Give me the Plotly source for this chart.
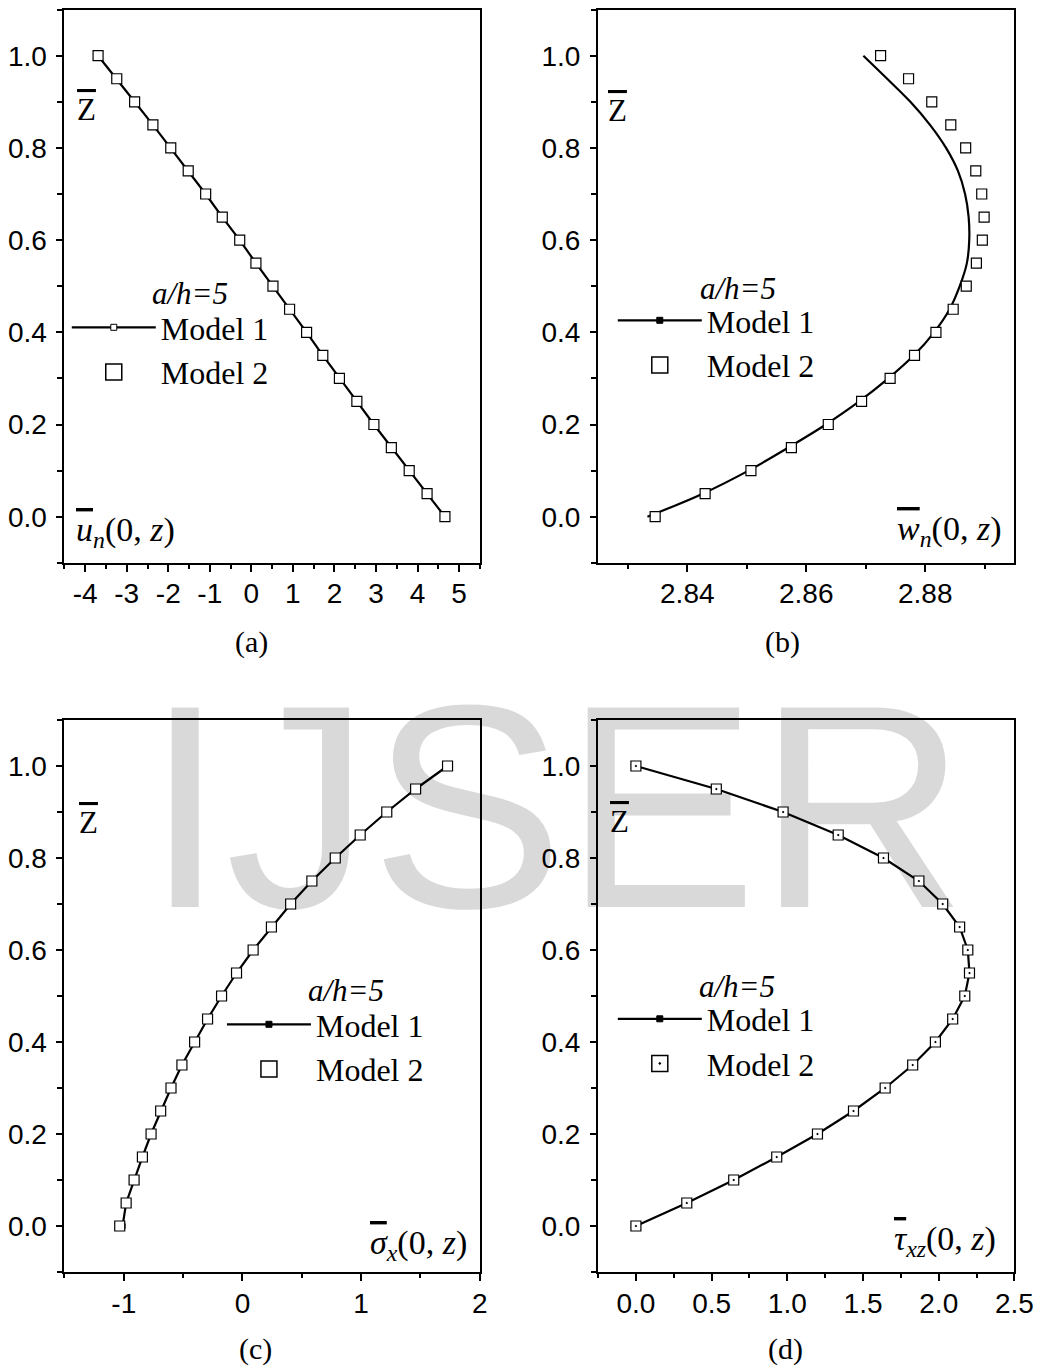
import numpy as np
import plotly.graph_objects as go

W, H = 1058, 1370

# ---------------- data ----------------
z_levels = [1.00, 0.95, 0.90, 0.85, 0.80, 0.75, 0.70, 0.65, 0.60, 0.55, 0.50,
            0.45, 0.40, 0.35, 0.30, 0.25, 0.20, 0.15, 0.10, 0.05, 0.00]

u_model1 = [-3.69, -3.24, -2.81, -2.37, -1.94, -1.52, -1.10, -0.70, -0.28, 0.11, 0.52,
            0.92, 1.33, 1.72, 2.12, 2.54, 2.95, 3.37, 3.80, 4.23, 4.66]
u_model2 = [-3.69, -3.24, -2.81, -2.37, -1.94, -1.52, -1.10, -0.70, -0.28, 0.11, 0.52,
            0.92, 1.33, 1.72, 2.12, 2.54, 2.95, 3.37, 3.80, 4.23, 4.66]

w_model1 = [2.8696, 2.8736, 2.8775, 2.8808, 2.8835, 2.8855, 2.8867, 2.8873, 2.8874, 2.8870, 2.8858,
            2.8841, 2.8815, 2.8781, 2.8738, 2.8689, 2.8633, 2.8570, 2.8503, 2.8426, 2.8333]
w_model2 = [2.8725, 2.8772, 2.8811, 2.8843, 2.8868, 2.8885, 2.8895, 2.8899, 2.8896, 2.8886, 2.8869,
            2.8847, 2.8818, 2.8782, 2.8741, 2.8693, 2.8637, 2.8575, 2.8507, 2.8430, 2.8346]

sx_model1 = [1.728, 1.459, 1.216, 0.992, 0.782, 0.585, 0.406, 0.244, 0.090, -0.050, -0.176,
             -0.294, -0.403, -0.510, -0.602, -0.689, -0.770, -0.843, -0.913, -0.980, -1.010]
sx_model2 = [1.728, 1.459, 1.216, 0.992, 0.782, 0.585, 0.406, 0.244, 0.090, -0.050, -0.176,
             -0.294, -0.403, -0.510, -0.602, -0.689, -0.770, -0.843, -0.913, -0.980, -1.034]

tau_model1 = [0.000, 0.531, 0.972, 1.336, 1.635, 1.869, 2.026, 2.138, 2.192, 2.203, 2.172,
              2.092, 1.978, 1.828, 1.646, 1.437, 1.199, 0.930, 0.646, 0.336, 0.000]
tau_model2 = [0.000, 0.531, 0.972, 1.336, 1.635, 1.869, 2.026, 2.138, 2.192, 2.203, 2.172,
              2.092, 1.978, 1.828, 1.646, 1.437, 1.199, 0.930, 0.646, 0.336, 0.000]

# ---------------- ticks / labels ----------------
y_ticks = [0.0, 0.2, 0.4, 0.6, 0.8, 1.0]
y_ticktext = ["0.0", "0.2", "0.4", "0.6", "0.8", "1.0"]
xa_ticks = [-4, -3, -2, -1, 0, 1, 2, 3, 4, 5]
xa_ticktext = ["-4", "-3", "-2", "-1", "0", "1", "2", "3", "4", "5"]
xb_ticks = [2.84, 2.86, 2.88]
xb_ticktext = ["2.84", "2.86", "2.88"]
xc_ticks = [-1, 0, 1, 2]
xc_ticktext = ["-1", "0", "1", "2"]
xd_ticks = [0.0, 0.5, 1.0, 1.5, 2.0, 2.5]
xd_ticktext = ["0.0", "0.5", "1.0", "1.5", "2.0", "2.5"]

legend_title = "a/h=5"
series_names = ["Model 1", "Model 2"]
panel_captions = ["(a)", "(b)", "(c)", "(d)"]
panel_quantities = [
    '<span style="text-decoration:overline"><i>u</i></span><sub><i>n</i></sub>(0, <i>z</i>)',
    '<span style="text-decoration:overline"><i>w</i></span><sub><i>n</i></sub>(0, <i>z</i>)',
    '<span style="text-decoration:overline"><i>σ</i></span><sub><i>x</i></sub>(0, <i>z</i>)',
    '<span style="text-decoration:overline"><i>τ</i></span><sub><i>xz</i></sub>(0, <i>z</i>)',
]
z_label = '<span style="text-decoration:overline">Z</span>'
watermark = "IJSER"


def px(x):
    return x / W


def py(y):
    return 1 - y / H


SERIF = "Liberation Serif"
SANS = "Liberation Sans"

dom_x_left = [px(65.6), px(488.6)]
dom_x_right = [px(609), px(1033)]
dom_y_top = [py(562.8), py(9.6)]
dom_y_bot = [py(1272), py(720)]


def x_axis(rng, domain, tv, tt, minor_vals, anchor):
    return dict(range=rng, domain=domain, anchor=anchor, tickmode="array",
                tickvals=tv, ticktext=tt, ticks="outside", ticklen=7, tickwidth=1.5,
                tickcolor="black", showline=True, linewidth=2, linecolor="black",
                mirror=True, showgrid=False, zeroline=False, ticklabelstandoff=-2,
                tickfont=dict(family=SANS, size=28, color="black"),
                minor=dict(tickmode="array", tickvals=minor_vals, ticks="outside",
                           ticklen=4, tickwidth=1.5, tickcolor="black", showgrid=False))


def y_axis(domain, anchor):
    return dict(range=[-0.1, 1.1], domain=domain, anchor=anchor, tickmode="array",
                tickvals=y_ticks, ticktext=y_ticktext, ticks="outside", ticklen=6,
                tickwidth=1.5, tickcolor="black", showline=True, linewidth=2,
                linecolor="black", mirror=True, showgrid=False, zeroline=False,
                ticklabelstandoff=4,
                tickfont=dict(family=SANS, size=28, color="black"),
                minor=dict(tickmode="array",
                           tickvals=list(np.round(np.arange(-0.1, 1.11, 0.2), 2)),
                           ticks="outside", ticklen=5, tickwidth=1.5,
                           tickcolor="black", showgrid=False))


fig = go.Figure()

panels = [
    ("x", "y", u_model1, u_model2, "legend", "square", "white", "lines+markers", "linear", "square"),
    ("x2", "y2", w_model1, w_model2, "legend2", "square", "black", "lines", "spline", "square"),
    ("x3", "y3", sx_model1, sx_model2, "legend3", "square", "black", "lines+markers", "linear", "square"),
    ("x4", "y4", tau_model1, tau_model2, "legend4", "square", "black", "lines+markers", "linear", "square-dot"),
]

for xa, ya, m1, m2, lg, sym1, col1, mode1, shape1, sym2 in panels:
    # Model 1 curve
    fig.add_trace(go.Scatter(
        x=m1, y=z_levels, xaxis=xa, yaxis=ya, mode=mode1, showlegend=False,
        line=dict(color="black", width=2.2, shape=shape1),
        marker=dict(symbol=sym1, size=5, color=col1, line=dict(color="black", width=1))))
    # Model 2 symbols
    fig.add_trace(go.Scatter(
        x=m2, y=z_levels, xaxis=xa, yaxis=ya, mode="markers", showlegend=False,
        marker=dict(symbol=sym2, size=10, color="white", line=dict(color="black", width=1.2))))
    # legend entries
    fig.add_trace(go.Scatter(
        x=[None], y=[None], xaxis=xa, yaxis=ya, mode="lines+markers", name=series_names[0],
        legend=lg, line=dict(color="black", width=2.2),
        marker=dict(symbol=sym1, size=6, color=col1, line=dict(color="black", width=1))))
    fig.add_trace(go.Scatter(
        x=[None], y=[None], xaxis=xa, yaxis=ya, mode="markers", name=series_names[1],
        legend=lg,
        marker=dict(symbol=sym2, size=16, color="white", line=dict(color="black", width=1.5))))

legend_common = dict(bgcolor="rgba(0,0,0,0)", borderwidth=0, itemwidth=84,
                     font=dict(family=SERIF, size=32, color="black"),
                     xanchor="left", yanchor="top", tracegroupgap=0)

fig.update_layout(
    width=W, height=H, margin=dict(l=0, r=0, t=0, b=0),
    paper_bgcolor="white", plot_bgcolor="rgba(0,0,0,0)",
    xaxis=x_axis([-4.5, 5.5], dom_x_left, xa_ticks, xa_ticktext,
                 list(np.arange(-4.5, 5.6, 1.0)), "y"),
    yaxis=y_axis(dom_y_top, "x"),
    xaxis2=x_axis([2.825, 2.895], dom_x_right, xb_ticks, xb_ticktext,
                  [2.83, 2.85, 2.87, 2.89], "y2"),
    yaxis2=y_axis(dom_y_top, "x2"),
    xaxis3=x_axis([-1.5, 2.0], dom_x_left, xc_ticks, xc_ticktext,
                  [-1.5, -0.5, 0.5, 1.5], "y3"),
    yaxis3=y_axis(dom_y_bot, "x3"),
    xaxis4=x_axis([-0.25, 2.5], dom_x_right, xd_ticks, xd_ticktext,
                  list(np.arange(-0.25, 2.5, 0.5)), "y4"),
    yaxis4=y_axis(dom_y_bot, "x4"),
    legend=dict(x=px(68), y=py(300), **legend_common),
    legend2=dict(x=px(624), y=py(293), **legend_common),
    legend3=dict(x=px(226), y=py(997), **legend_common),
    legend4=dict(x=px(624), y=py(991.5), **legend_common),
)

# watermark (behind the data)
fig.add_shape(type="rect", xref="paper", yref="paper",
              x0=px(566) - 0.01, x1=px(566) + 0.01, y0=py(779) - 0.01, y1=py(779) + 0.01,
              line=dict(width=0), fillcolor="rgba(0,0,0,0)", layer="below",
              label=dict(text=watermark, textposition="middle center",
                         font=dict(family=SANS, size=290, color="#d9d9d9")))

ann = []
# legend titles
for (cx, cy) in [(193, 294), (751, 288), (352, 990), (750, 986)]:
    ann.append(dict(x=px(cx), y=py(cy), text="<i>" + legend_title + "</i>",
                    font=dict(family=SERIF, size=31, color="black")))
# z-bar labels
for (cx, cy) in [(88, 109), (629, 111), (90, 822), (631, 821)]:
    ann.append(dict(x=px(cx), y=py(cy), text=z_label,
                    font=dict(family=SERIF, size=31, color="black")))
# quantity labels
ann.append(dict(x=px(75), y=py(532), text=panel_quantities[0], xanchor="left",
                font=dict(family=SERIF, size=34, color="black")))
ann.append(dict(x=px(1021), y=py(531), text=panel_quantities[1], xanchor="right",
                font=dict(family=SERIF, size=34, color="black")))
ann.append(dict(x=px(478), y=py(1245), text=panel_quantities[2], xanchor="right",
                font=dict(family=SERIF, size=34, color="black")))
ann.append(dict(x=px(1016), y=py(1241), text=panel_quantities[3], xanchor="right",
                font=dict(family=SERIF, size=34, color="black")))
# captions
for (cx, cy), cap in zip([(256, 642), (797, 642), (260, 1349), (800, 1349)], panel_captions):
    ann.append(dict(x=px(cx), y=py(cy), text=cap,
                    font=dict(family=SERIF, size=30, color="black")))

for a in ann:
    a.setdefault("xanchor", "center")
    a.update(xref="paper", yref="paper", yanchor="middle", showarrow=False)
fig.update_layout(annotations=ann)

fig.write_html("out.html")
